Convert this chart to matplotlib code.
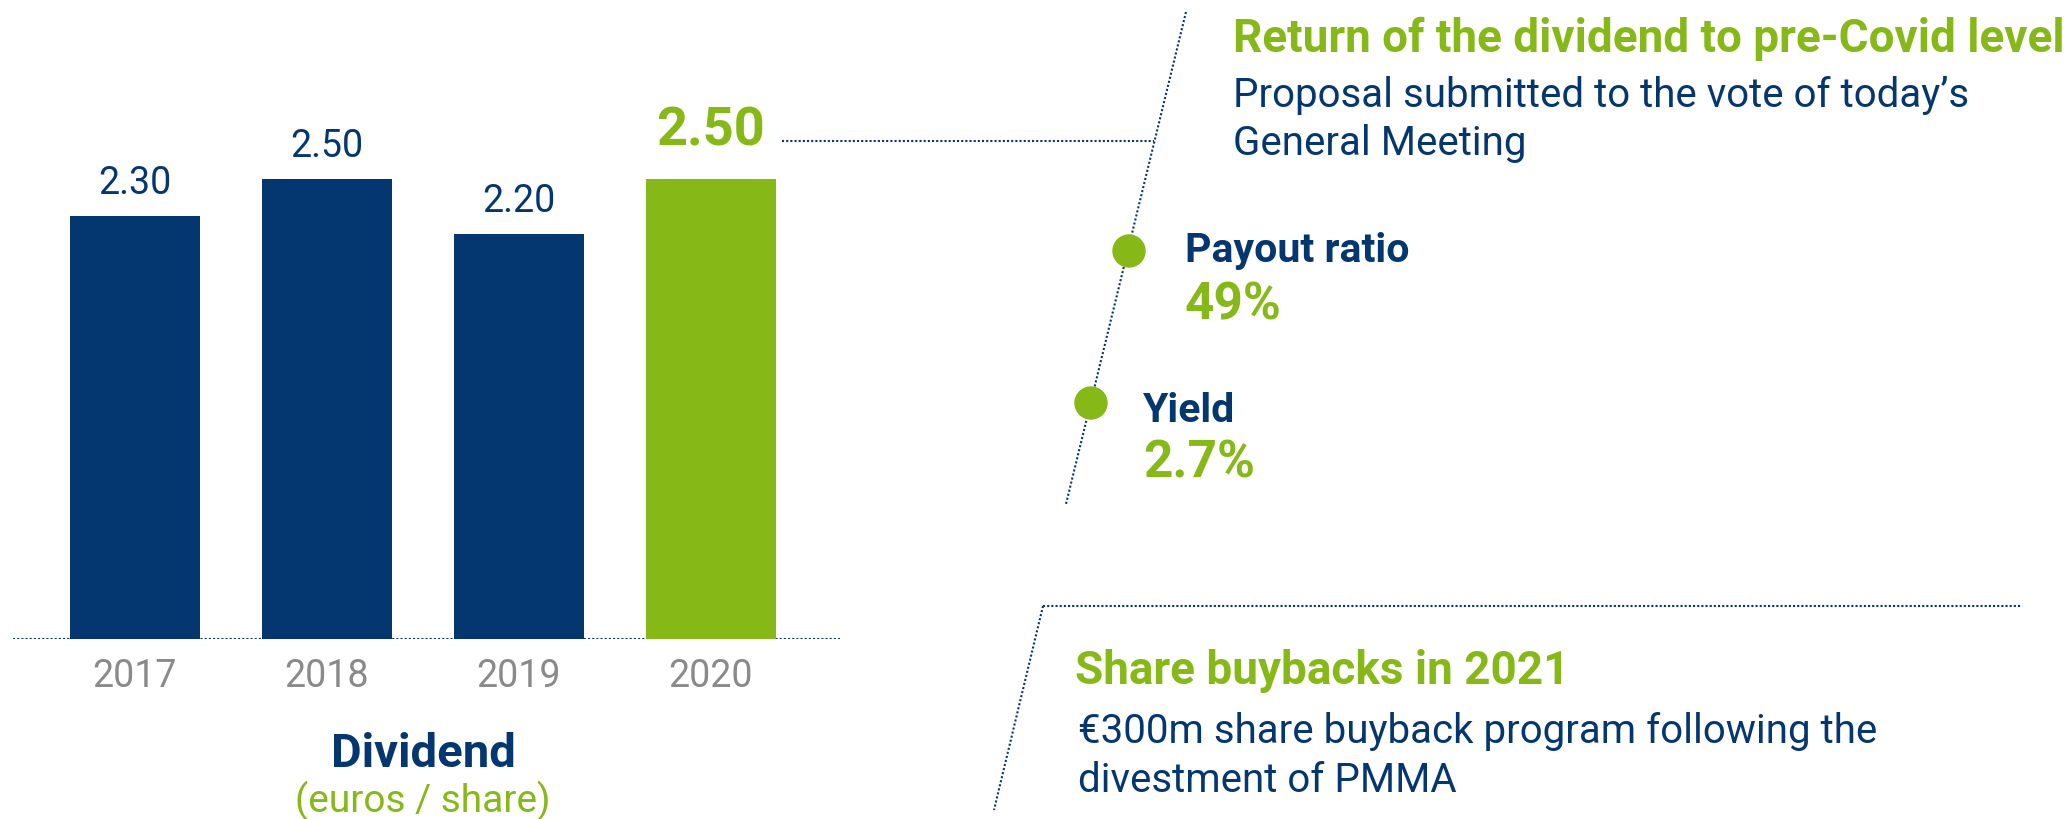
import matplotlib
matplotlib.use("Agg")
import matplotlib.pyplot as plt
from matplotlib.patches import Circle

plt.rcParams['font.family'] = ['Roboto', 'DejaVu Sans']

years = ['2017', '2018', '2019', '2020']
dividend = [2.30, 2.50, 2.20, 2.50]
payout_ratio = '49%'
dividend_yield = '2.7%'

NAVY = '#04366f'
GREEN = '#86b918'
GREY = '#8a8a8a'
W, H = 2072, 819

fig = plt.figure(figsize=(W / 100, H / 100), dpi=100)

# bar chart, placed in pixel terms
left_px, right_px, base_px, top_px = 13, 840, 639, 100
ax = fig.add_axes([left_px / W, (H - base_px) / H, (right_px - left_px) / W, (base_px - top_px) / H])
xs = list(range(len(years)))
colors = [NAVY] * (len(years) - 1) + [GREEN]
bars = ax.bar(xs, dividend, width=0.677, color=colors, zorder=2)
ax.axhline(0, color=NAVY, lw=1.5, ls=(0, (1, 1)), zorder=1)
ax.set_xlim(-0.635, 3.672)
ax.set_ylim(0, (base_px - top_px) / 184)
for s in ax.spines.values():
    s.set_visible(False)
ax.set_yticks([])
ax.set_xticks(xs, years)
ax.tick_params(axis='x', length=0, pad=14, labelsize=27, labelcolor=GREY)

for i, (b, v) in enumerate(zip(bars, dividend)):
    last = i == len(dividend) - 1
    ax.annotate('%.2f' % v, (b.get_x() + b.get_width() / 2, v),
                xytext=(0, 16 if last else 10), textcoords='offset points',
                ha='center', va='bottom',
                fontsize=39 if last else 27,
                fontweight='bold' if last else 'normal',
                color=GREEN if last else NAVY)

# overlay in pixel coords for the annotations
ov = fig.add_axes([0, 0, 1, 1], facecolor='none')
ov.set_xlim(0, W)
ov.set_ylim(H, 0)
ov.axis('off')

dot = dict(color=NAVY, lw=1.5, ls=(0, (1, 1)))
ov.plot([782, 1154], [141, 141], **dot)
ov.plot([1186, 1066], [12, 504], **dot)
ov.plot([1043, 2022], [606, 606], **dot)
ov.plot([1043, 994], [606, 810], **dot)
ov.add_patch(Circle((1129, 251), 16, color=GREEN, zorder=3))
ov.add_patch(Circle((1091, 403), 16, color=GREEN, zorder=3))

ov.text(423, 767, 'Dividend', ha='center', va='baseline', fontsize=34, fontweight='bold', color=NAVY)
ov.text(423, 812, '(euros / share)', ha='center', va='baseline', fontsize=28, color=GREEN)

ov.text(1233, 52, 'Return of the dividend to pre-Covid level', va='baseline',
        fontsize=33, fontweight='bold', color=GREEN)
ov.text(1233, 107, 'Proposal submitted to the vote of today\u2019s', va='baseline', fontsize=29, color=NAVY)
ov.text(1233, 155, 'General Meeting', va='baseline', fontsize=29, color=NAVY)

ov.text(1185, 262, 'Payout ratio', va='baseline', fontsize=29.5, fontweight='bold', color=NAVY)
ov.text(1185, 319, payout_ratio, va='baseline', fontsize=37, fontweight='bold', color=GREEN)
ov.text(1143, 422, 'Yield', va='baseline', fontsize=29.5, fontweight='bold', color=NAVY)
ov.text(1143, 478, dividend_yield, va='baseline', fontsize=37, fontweight='bold', color=GREEN)

ov.text(1075, 684, 'Share buybacks in 2021', va='baseline', fontsize=33, fontweight='bold', color=GREEN)
ov.text(1078, 743, '\u20ac300m share buyback program following the', va='baseline', fontsize=29, color=NAVY)
ov.text(1078, 792, 'divestment of PMMA', va='baseline', fontsize=29, color=NAVY)

fig.savefig('out.png', dpi=100)
